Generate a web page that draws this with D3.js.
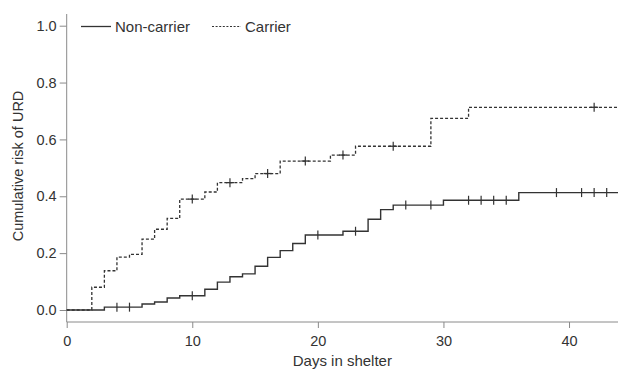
<!DOCTYPE html>
<html>
<head>
<meta charset="utf-8">
<script src="https://cdn.jsdelivr.net/npm/d3@7"></script>
<style>
  body { margin: 0; background: #fff; }
  text { font-family: "Liberation Sans", Arial, sans-serif; fill: #333; }
</style>
</head>
<body>
<div id="chart"></div>
<script>
// step times (days) and cumulative risk after each step
const nonCarrierTimes = [0, 3, 6, 7, 8, 9, 11, 12, 13, 14, 15, 16, 17, 18, 19, 22, 24, 25, 26, 30, 36];
const nonCarrierRisk  = [0, 0.010, 0.021, 0.028, 0.042, 0.050, 0.073, 0.098, 0.117, 0.127, 0.154, 0.185, 0.209, 0.234, 0.264, 0.277, 0.319, 0.353, 0.369, 0.386, 0.413];
const nonCarrierCensored = [4, 5, 10, 20, 23, 27, 29, 32, 33, 34, 35, 39, 41, 42, 43];

const carrierTimes = [0, 2, 3, 4, 5, 6, 7, 8, 9, 11, 12, 14, 15, 17, 21, 23, 29, 32];
const carrierRisk  = [0, 0.080, 0.138, 0.186, 0.196, 0.249, 0.284, 0.322, 0.390, 0.415, 0.448, 0.462, 0.480, 0.524, 0.545, 0.576, 0.674, 0.713];
const carrierCensored = [10, 13, 16, 19, 22, 26, 42];

const xTicks = [0, 10, 20, 30, 40];
const yTicks = [0, 0.2, 0.4, 0.6, 0.8, 1.0];
const maxDay = 43.9;

const width = 618, height = 371;
const svg = d3.select("#chart").append("svg")
  .attr("width", width)
  .attr("height", height);

const x = d3.scaleLinear().domain([0, maxDay]).range([66.7, 618]);
const y = d3.scaleLinear().domain([0, 1]).range([310, 25.7]);
const axisY = 322;
const axisColor = "#8a8a8a";
const lineColor = "#333";

// x axis
const gx = svg.append("g")
  .attr("transform", `translate(0,${axisY})`)
  .call(d3.axisBottom(x).tickValues(xTicks).tickFormat(d3.format("d")).tickSize(6).tickSizeOuter(0));
gx.select(".domain").remove();
gx.selectAll(".tick line").attr("stroke", axisColor);
gx.selectAll(".tick text").attr("dy", "1.05em").style("font-size", "14.5px").attr("fill", "#333");
svg.append("line")
  .attr("x1", x(0)).attr("x2", width)
  .attr("y1", axisY).attr("y2", axisY)
  .attr("stroke", axisColor);

// y axis
const gy = svg.append("g")
  .attr("transform", `translate(${x(0)},0)`)
  .call(d3.axisLeft(y).tickValues(yTicks).tickFormat(d3.format(".1f")).tickSize(7).tickSizeOuter(0));
gy.select(".domain").remove();
gy.selectAll(".tick line").attr("stroke", axisColor);
gy.selectAll(".tick text").attr("x", -10).style("font-size", "14.5px").attr("fill", "#333");
svg.append("line")
  .attr("x1", x(0)).attr("x2", x(0))
  .attr("y1", 14).attr("y2", axisY)
  .attr("stroke", axisColor);

// axis titles
svg.append("text")
  .attr("x", (x(0) + width) / 2)
  .attr("y", 366)
  .attr("text-anchor", "middle")
  .style("font-size", "15px")
  .text("Days in shelter");

svg.append("text")
  .attr("transform", "translate(23,166) rotate(-90)")
  .attr("text-anchor", "middle")
  .style("font-size", "14.5px")
  .text("Cumulative risk of URD");

// step curves
function series(times, risk) {
  const pts = times.map((t, i) => ({ t: t, r: risk[i] }));
  pts.push({ t: maxDay, r: risk[risk.length - 1] });
  return pts;
}
function riskAt(times, risk, t) {
  return risk[d3.bisectRight(times, t) - 1];
}

const line = d3.line()
  .x(d => x(d.t))
  .y(d => y(d.r))
  .curve(d3.curveStepAfter);

svg.append("path")
  .datum(series(carrierTimes, carrierRisk))
  .attr("d", line)
  .attr("fill", "none")
  .attr("stroke", lineColor)
  .attr("stroke-width", 1.3)
  .attr("stroke-dasharray", "3,2");

svg.append("path")
  .datum(series(nonCarrierTimes, nonCarrierRisk))
  .attr("d", line)
  .attr("fill", "none")
  .attr("stroke", lineColor)
  .attr("stroke-width", 1.4);

// censor marks
function censorMarks(cens, times, risk, dashed) {
  svg.append("g").selectAll("line")
    .data(cens)
    .join("line")
    .attr("x1", d => x(d)).attr("x2", d => x(d))
    .attr("y1", d => y(riskAt(times, risk, d)) - 4.5)
    .attr("y2", d => y(riskAt(times, risk, d)) + 4.5)
    .attr("stroke", lineColor)
    .attr("stroke-width", 1.2);
  if (dashed) {
    svg.append("g").selectAll("line")
      .data(cens)
      .join("line")
      .attr("x1", d => x(d) - 4).attr("x2", d => x(d) + 4)
      .attr("y1", d => y(riskAt(times, risk, d)))
      .attr("y2", d => y(riskAt(times, risk, d)))
      .attr("stroke", lineColor)
      .attr("stroke-width", 1.3);
  }
}
censorMarks(nonCarrierCensored, nonCarrierTimes, nonCarrierRisk, false);
censorMarks(carrierCensored, carrierTimes, carrierRisk, true);

// legend
const legend = svg.append("g");
legend.append("line")
  .attr("x1", 81).attr("x2", 111).attr("y1", 26.5).attr("y2", 26.5)
  .attr("stroke", lineColor).attr("stroke-width", 1.3);
legend.append("text")
  .attr("x", 115).attr("y", 32)
  .style("font-size", "15px")
  .text("Non-carrier");
legend.append("line")
  .attr("x1", 212).attr("x2", 241).attr("y1", 26.5).attr("y2", 26.5)
  .attr("stroke", lineColor).attr("stroke-width", 1.2)
  .attr("stroke-dasharray", "2,1.6");
legend.append("text")
  .attr("x", 245).attr("y", 32)
  .style("font-size", "15px")
  .text("Carrier");
</script>
</body>
</html>
